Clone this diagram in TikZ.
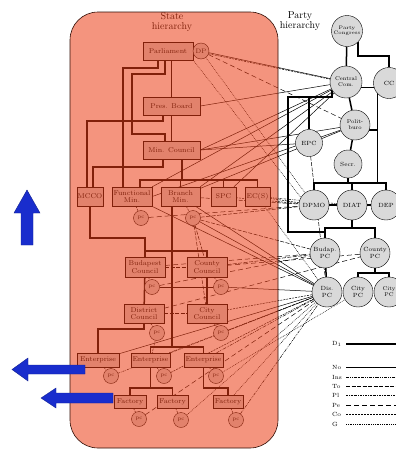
\documentclass[tikz,border=0pt]{standalone}
\usepackage{amsmath}
\usepackage{tikz}
\definecolor{stateor}{RGB}{235,60,20}
\definecolor{arrblue}{RGB}{25,45,205}
\pgfdeclarelayer{background}
\pgfsetlayers{background,main}
\begin{document}
\begin{tikzpicture}[x=1pt,y=-1pt,
	sbox/.style={draw,fill=black!15,minimum height=18,align=center,font=\fontsize{7}{7.5}\selectfont},
	pcnode/.style={circle,draw,fill=black!15,minimum size=15,font=\fontsize{5.5}{6}\selectfont},
	pnode/.style={circle,draw,fill=black!15,minimum size=30,align=center,font=\fontsize{6}{6.5}\selectfont},
	stree/.style={line width=1.5pt},
	ptree/.style={line width=1.5pt},
	lno/.style={line width=0.5pt},
	lins/.style={line width=0.5pt,dash pattern=on 3pt off 1pt on 0.8pt off 1pt on 0.8pt off 1pt},
	lto/.style={line width=0.5pt,dash pattern=on 4pt off 1.5pt},
	lpl/.style={line width=0.5pt,dash pattern=on 2pt off 1pt on 0.7pt off 1pt},
	lpe/.style={line width=0.5pt,dash pattern=on 5pt off 3pt},
	lco/.style={line width=0.5pt,dash pattern=on 2pt off 1pt},
	lg/.style={line width=0.5pt,dash pattern=on 0.8pt off 1pt},
	legtxt/.style={anchor=west,font=\fontsize{6}{6}\selectfont},
	htitle/.style={align=center,font=\fontsize{10}{10.5}\selectfont}]
				\tikzstyle{every node}+=[inner sep=0pt]
				\useasboundingbox (0,0) rectangle (396,450);
				\node[htitle] (sttl) at (172,22) {State\\hierarchy};
				\node[htitle] (pttl) at (300,21) {Party\\hierarchy};
				\node[sbox,minimum width=50] (parl) at (168,51) {Parliament};
				\node[pcnode,minimum size=16,font=\fontsize{6.5}{7}\selectfont] (dp) at (201,51) {DP};
				\node[sbox,minimum width=57] (pres) at (171.5,106) {Pres. Board};
				\node[sbox,minimum width=57] (minc) at (171.5,150) {Min. Council};
				\node[sbox,minimum width=26,minimum height=19] (mcco) at (90,196.5) {MCCO};
				\node[sbox,minimum width=40,minimum height=19] (fmin) at (132,196.5) {Functional\\Min.};
				\node[sbox,minimum width=39,minimum height=19] (bmin) at (180.5,196.5) {Branch\\Min.};
				\node[sbox,minimum width=25,minimum height=19] (spc) at (223.5,196.5) {SPC};
				\node[sbox,minimum width=25,minimum height=19] (ecs) at (257.5,196.5) {EC(S)};
				\node[pcnode] (pc1) at (141,218) {pc};
				\node[pcnode] (pc2) at (193,218) {pc};
				\node[sbox,minimum width=40,minimum height=20] (bud) at (145,267) {Budapest\\Council};
				\node[sbox,minimum width=40,minimum height=20] (cty) at (207,267) {County\\Council};
				\node[pcnode] (pc3) at (152,287) {pc};
				\node[pcnode] (pc4) at (221,287) {pc};
				\node[sbox,minimum width=40,minimum height=19] (dis) at (144,313.5) {District\\Council};
				\node[sbox,minimum width=40,minimum height=19] (city) at (207,313.5) {City\\Council};
				\node[pcnode] (pc5) at (157,333) {pc};
				\node[pcnode] (pc6) at (221,333) {pc};
				\node[sbox,minimum width=42,minimum height=14] (ent1) at (98,360) {Enterprise};
				\node[sbox,minimum width=39,minimum height=14] (ent2) at (150.5,360) {Enterprise};
				\node[sbox,minimum width=39,minimum height=14] (ent3) at (203.5,360) {Enterprise};
				\node[pcnode] (pc7) at (111,376) {pc};
				\node[pcnode] (pc8) at (164,376) {pc};
				\node[pcnode] (pc9) at (216,376) {pc};
				\node[sbox,minimum width=32,minimum height=13] (fac1) at (130,401.5) {Factory};
				\node[sbox,minimum width=31,minimum height=13] (fac2) at (172.5,401.5) {Factory};
				\node[sbox,minimum width=30,minimum height=13] (fac3) at (228,401.5) {Factory};
				\node[pcnode] (pc10) at (139,419) {pc};
				\node[pcnode] (pc11) at (181,420) {pc};
				\node[pcnode] (pc12) at (236,420) {pc};
				\node[pnode,minimum size=31,font=\fontsize{5}{5.5}\selectfont] (pcong) at (347,31) {Party\\Congress};
				\node[pnode,minimum size=32,font=\fontsize{5.5}{6}\selectfont] (ccom) at (346,82) {Central\\Com.};
				\node[pnode,minimum size=31] (cc) at (389,83) {CC};
				\node[pnode,font=\fontsize{5.5}{6}\selectfont] (polit) at (355,125) {Polit-\\buro};
				\node[pnode,minimum size=27] (epc) at (309,143) {EPC};
				\node[pnode,minimum size=28] (secr) at (348,164) {Secr.};
				\node[pnode] (dpmo) at (314,205) {DPMO};
				\node[pnode] (diat) at (352,205) {DIAT};
				\node[pnode] (dep) at (386,205) {DEP};
				\node[pnode] (budpc) at (325,253) {Budap.\\PC};
				\node[pnode] (cntpc) at (375,253) {County\\PC};
				\node[pnode] (dispc) at (327,292) {Dis.\\PC};
				\node[pnode] (citypc) at (358,292) {City\\PC};
				\node[pnode,font=\fontsize{5.5}{6}\selectfont] (citypc2) at (389,292) {City\\PC};
				\begin{pgfonlayer}{background}
				\draw[stree] (pres.north |- parl.south) -- (pres.north);
				\draw[stree] (pres.south) -- (minc.north);
				\draw[stree] ([xshift=15]parl.south west) -- ++(0,8) -| ([xshift=11]fmin.north west);
				\draw[stree] ([xshift=22]parl.south west) -- ++(0,14) -| ++(-33,60) -| ([xshift=22]minc.north west);
				\draw[stree] ([xshift=20]pres.south west) -- ++(0,6) -| ([xshift=-3]mcco.north);
				\draw[stree] ([xshift=20]minc.south west) -- ++(0,8) -| ([xshift=3]mcco.north);
				\draw[stree] ([xshift=39]minc.south west) -- ++(0,21) coordinate (mbus);
				\draw[stree] (mbus) -| ([xshift=28]fmin.north west);
				\draw[stree] (mbus) -| (bmin.north);
				\draw[stree] (mbus) -| (spc.north);
				\draw[stree] (mbus) -| (ecs.north);
				\draw[stree] ([xshift=11]bmin.south west) -- ++(0,45) coordinate (cbus);
				\draw[stree] (cbus) -| (bud.north);
				\draw[stree] (cbus) -| (cty.north);
				\draw[stree] (cbus) -- ++(0,96) coordinate (ebus);
				\draw[stree] (ebus) -| (ent2.north);
				\draw[stree] (ebus) -| (ent3.north);
				\draw[stree] (mcco.south) -- ++(0,32) -| (bud.north);
				\draw[stree] (bud) -- (dis);
				\draw[stree] (dis.south) -- ++(0,6) -| (ent1.north);
				\draw[stree] (cty) -- (city);
				\draw[stree] (ent2.south) -- ++(0,21) coordinate (fbus);
				\draw[stree] (fbus) -| (fac1.north);
				\draw[stree] (fbus) -| (fac2.north);
				\draw[stree] (ent3.south) -- ++(0,21) -| (fac3.north);
				\draw[lco] (fmin) -- (pc1);
				\draw[lco] (bmin) -- (pc2);
				\draw[lco] (bud) -- (pc3);
				\draw[lco] (cty) -- (pc4);
				\draw[lco] (dis) -- (pc5);
				\draw[lco] (city) -- (pc6);
				\draw[lco] (ent1) -- (pc7);
				\draw[lco] (ent2) -- (pc8);
				\draw[lco] (ent3) -- (pc9);
				\draw[lco] (fac1) -- (pc10);
				\draw[lco] (fac2) -- (pc11);
				\draw[lco] (fac3) -- (pc12);
				\draw[ptree] (pcong) -- (ccom);
				\draw[ptree] (pcong.-45) -- ++(0,14) -| (cc.north);
				\draw[ptree] (ccom) -- (polit);
				\draw[ptree] (ccom.-150) -- ++(0,7) -| ++(-44,135) -| (budpc.north);
				\draw[ptree] (ccom.-150) -- ++(0,7) -| (epc.north);
				\draw[ptree] (polit) -- (secr);
				\draw[ptree] (polit.-20) -| ++(8,53) coordinate (pbus);
				\draw[ptree] (ccom.-20) -| (pbus);
				\draw[ptree] (secr.south) -- (secr.south |- pbus);
				\draw[ptree] (pbus) -| (dpmo.north);
				\draw[ptree] (pbus) -| (diat.north);
				\draw[ptree] (pbus) -| (dep.north);
				\draw[ptree] (dpmo) -- (diat);
				\draw[ptree] (diat) -- (dep);
				\draw[ptree] (diat.south) -- ++(0,8) coordinate (dbus);
				\draw[ptree] (dbus) -| (budpc.north);
				\draw[ptree] (dbus) -| (cntpc.north);
				\draw[ptree] (budpc) -- (dispc);
				\draw[ptree] (cntpc.south) -- ++(0,5) coordinate (cpbus);
				\draw[ptree] (cpbus) -| (citypc.north);
				\draw[ptree] (cpbus) -| (citypc2.north);
				\draw[lno] (dp) -- (ccom);
				\draw[lco] (dp.-20) -- (ccom.170);
				\draw[lpe] (dp) -- (polit);
				\draw[lg] (dp) -- (dpmo);
				\draw[lg] (parl.south east) -- (dpmo.150);
				\draw[lno] (pres.east) -- (ccom);
				\draw[lno] (minc.east) -- (ccom);
				\draw[lno] (minc.east) -- (polit);
				\draw[lno] (minc.east) -- (epc);
				\draw[lno] (fmin.north east) -- (ccom);
				\draw[lno] (fmin.east) -- (polit);
				\draw[lno] (bmin.north east) -- (ccom);
				\draw[lno] (bmin) -- (polit);
				\draw[lno] (spc) -- (ccom);
				\draw[lto] (bmin) -- (dpmo);
				\draw[lco] (spc) -- (dpmo);
				\draw[lco] (ecs) -- (dpmo);
				\draw[lpl] (ecs) -- (diat);
				\draw[lg] (ecs) -- (dispc);
				\draw[lpe] (pc1) -- (dpmo);
				\draw[lto] (pc2) -- (dpmo);
				\draw[lno] (pc2) -- (dispc);
				\draw[lto] (pc2) -- (budpc);
				\draw[lto] (pc2) -- (cty);
				\draw[lto] (pc2) -- (city);
				\draw[lno] (bmin) -- (dispc);
				\draw[lno] (fmin) -- (dispc);
				\draw[lto] (bud) -- (cty);
				\draw[lpe] (bud) -- (budpc);
				\draw[lto] (dis) -- (city);
				\draw[lpe] (dis) -- (cntpc);
				\draw[lto] (cty) -- (budpc);
				\draw[lpe] (cty) -- (cntpc);
				\draw[lno] (pc3) -- (pc4);
				\draw[lpe] (pc3) -- (budpc);
				\draw[lno] (pc4) -- (dispc);
				\draw[lco] (city) -- (dispc);
				\draw[lco] (pc5) -- (ent2);
				\draw[lins] (pc6) -- (dispc);
				\draw[lno] (ent1) -- (dispc);
				\draw[lpl] (ent2) -- (dispc);
				\draw[lins] (ent3) -- (dispc);
				\draw[lpl] (pc7) -- (dispc);
				\draw[lco] (pc8) -- (dispc);
				\draw[lg] (pc9) -- (citypc);
				\draw[lpe] (pc10) -- (dispc);
				\draw[lg] (pc11) -- (dispc);
				\draw[lins] (pc12) -- (dispc);
				\draw[lg] (fac3) -- (dispc);
				\draw[lto] (epc) -- (dispc);
				\end{pgfonlayer}
				\node[legtxt] (kd) at (332,344) {D$_1$};
				\draw[ptree] (kd.west) ++(14,0) -- ++(60,0);
				\node[legtxt] (kno) at (332,367) {No};
				\draw[lno] (kno.west) ++(14,0) -- ++(60,0);
				\node[legtxt] (kins) at (332,377) {Ins};
				\draw[lins] (kins.west) ++(14,0) -- ++(60,0);
				\node[legtxt] (kto) at (332,386) {To};
				\draw[lto] (kto.west) ++(14,0) -- ++(60,0);
				\node[legtxt] (kpl) at (332,395) {Pl};
				\draw[lpl] (kpl.west) ++(14,0) -- ++(60,0);
				\node[legtxt] (kpe) at (332,405) {Pe};
				\draw[lpe] (kpe.west) ++(14,0) -- ++(60,0);
				\node[legtxt] (kco) at (332,414) {Co};
				\draw[lco] (kco.west) ++(14,0) -- ++(60,0);
				\node[legtxt] (kg) at (332,424) {G};
				\draw[lg] (kg.west) ++(14,0) -- ++(60,0);
				\draw[draw=black!80!stateor,line width=0.6pt,fill=stateor,fill opacity=0.55,rounded corners=28] (70,12) rectangle (278,448);
				\filldraw[fill=arrblue,draw=arrblue!70!black] (21,245) -- (21,213) -- (14,213) -- (27,190) -- (40,213) -- (33,213) -- (33,245) -- cycle;
				\filldraw[fill=arrblue,draw=arrblue!70!black] (85,365) -- (28,365) -- (28,358) -- (12,369.5) -- (28,381) -- (28,374) -- (85,374) -- cycle;
				\filldraw[fill=arrblue,draw=arrblue!70!black] (113,393) -- (56,393) -- (56,388) -- (41,398) -- (56,408) -- (56,403) -- (113,403) -- cycle;
			\end{tikzpicture}
\end{document}
